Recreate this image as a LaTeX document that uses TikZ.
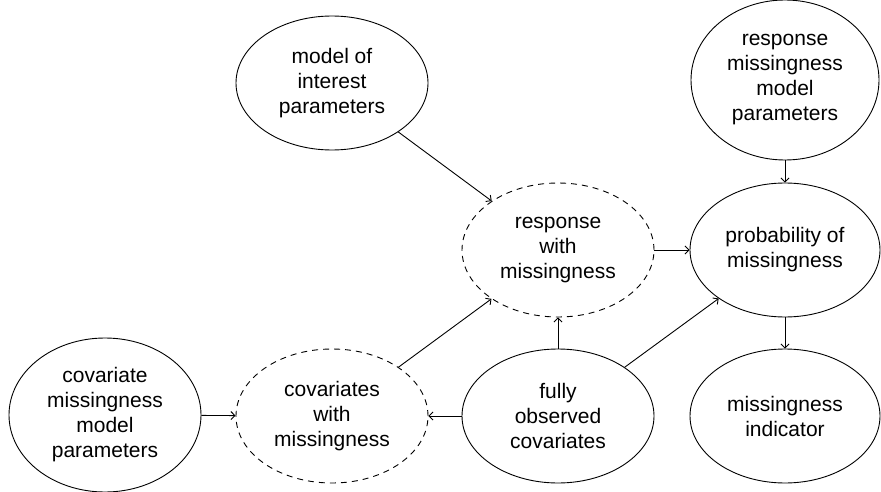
\documentclass[tikz,border=0pt]{standalone}
\usepackage{fontspec}
\setmainfont{Liberation Sans}
\usetikzlibrary{shapes.geometric,arrows.meta}

\begin{document}
\begin{tikzpicture}[x=1pt,y=-1pt,
  var/.style={ellipse, draw, line width=0.9pt, inner sep=0pt, align=center,
    minimum width=192pt, minimum height=134pt,
    font=\fontsize{21}{25}\selectfont},
  latent/.style={var, dash pattern=on 6pt off 5pt},
  arr/.style={line width=0.9pt, -{Straight Barb[length=4pt,width=8pt]}}]
  \useasboundingbox (0,0) rectangle (881,492);

  % parameter nodes
  \node[var] (model) at (332,83) {model of\\interest\\parameters};
  \node[var, minimum width=188pt, minimum height=160pt] (rparams) at (785,80)
    {response\\missingness\\model\\parameters};
  \node[var, minimum width=192pt, minimum height=154pt] (cparams) at (105,415)
    {covariate\\missingness\\model\\parameters};

  % data nodes
  \node[latent] (resp) at (558,250) {response\\with\\missingness};
  \node[var, minimum width=190pt] (prob) at (785,250) {probability of\\missingness};
  \node[latent] (cov) at (332,416) {covariates\\with\\missingness};
  \node[var] (fully) at (558,416) {fully\\observed\\covariates};
  \node[var, minimum width=190pt] (ind) at (785,416) {missingness\\indicator};

  % dependencies
  \draw[arr] (model) -- (resp);
  \draw[arr] (rparams) -- (prob);
  \draw[arr] (resp) -- (prob);
  \draw[arr] (prob) -- (ind);
  \draw[arr] (fully) -- (resp);
  \draw[arr] (fully) -- (prob);
  \draw[arr] (fully) -- (cov);
  \draw[arr] (cov) -- (resp);
  \draw[arr] (cparams) -- (cov);
\end{tikzpicture}
\end{document}
